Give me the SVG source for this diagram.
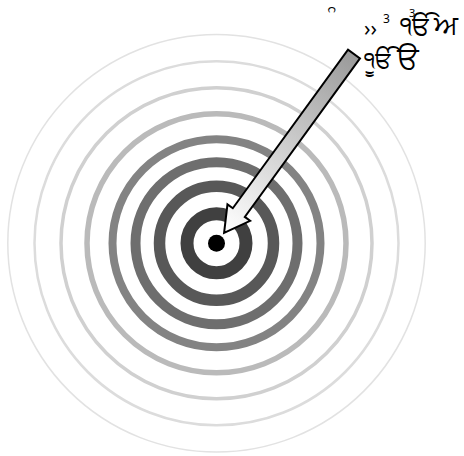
<svg xmlns="http://www.w3.org/2000/svg" width="464" height="456" viewBox="0 0 464 456">
<style>
.ring{fill:none}
.lbl{font-family:"Noto Sans","DejaVu Sans",sans-serif;fill:#000}
</style>
<defs>
<linearGradient id="ag" gradientUnits="userSpaceOnUse" x1="0" y1="0" x2="221" y2="0">
<stop offset="0" stop-color="#9a9a9a"/>
<stop offset="1" stop-color="#ffffff"/>
</linearGradient>
</defs>
<rect width="464" height="456" fill="#fff"/>
<g id="target">
<circle class="ring" cx="216.5" cy="243.3" r="208.7" stroke="#e2e2e2" stroke-width="1.5"/>
<circle class="ring" cx="216.5" cy="243.3" r="182" stroke="#dcdcdc" stroke-width="2.5"/>
<circle class="ring" cx="216.5" cy="243.3" r="155.5" stroke="#d0d0d0" stroke-width="3.5"/>
<circle class="ring" cx="216.5" cy="243.3" r="129.5" stroke="#bababa" stroke-width="5.5"/>
<circle class="ring" cx="216.5" cy="243.3" r="104" stroke="#838383" stroke-width="8"/>
<circle class="ring" cx="216.5" cy="243.3" r="81" stroke="#6e6e6e" stroke-width="10"/>
<circle class="ring" cx="216.5" cy="243.3" r="57" stroke="#585858" stroke-width="11.5"/>
<circle class="ring" cx="216.5" cy="243.3" r="29.5" stroke="#404040" stroke-width="13"/>
<circle cx="216.5" cy="243.3" r="8.5" fill="#000"/>
</g>
<g id="connectors">
<g id="arrow" transform="translate(354,54) rotate(126)">
<path d="M0,-7.4 L196,-7.4 L196,-14 L221,0 L196,14 L196,7.4 L0,7.4 Z" fill="url(#ag)" stroke="#000" stroke-width="2" stroke-linejoin="miter"/>
</g>
</g>
<g id="label">
<text class="lbl"><tspan x="329" y="30" font-size="26">&#160;&#2672;</tspan><tspan x="364" y="36" font-size="21">››</tspan><tspan x="383" y="23" font-size="12">3</tspan><tspan x="400" y="35" font-size="26">ੴ</tspan><tspan x="409" y="17" font-size="11">3</tspan><tspan x="434" y="35" font-size="28">ਅ</tspan></text>
<text class="lbl"><tspan x="364" y="68" font-size="24">ੴ</tspan><tspan x="371" y="70" font-size="22">&#160;&#2626;</tspan><tspan x="397" y="68" font-size="30">ੳ</tspan></text>
</g>
</svg>
